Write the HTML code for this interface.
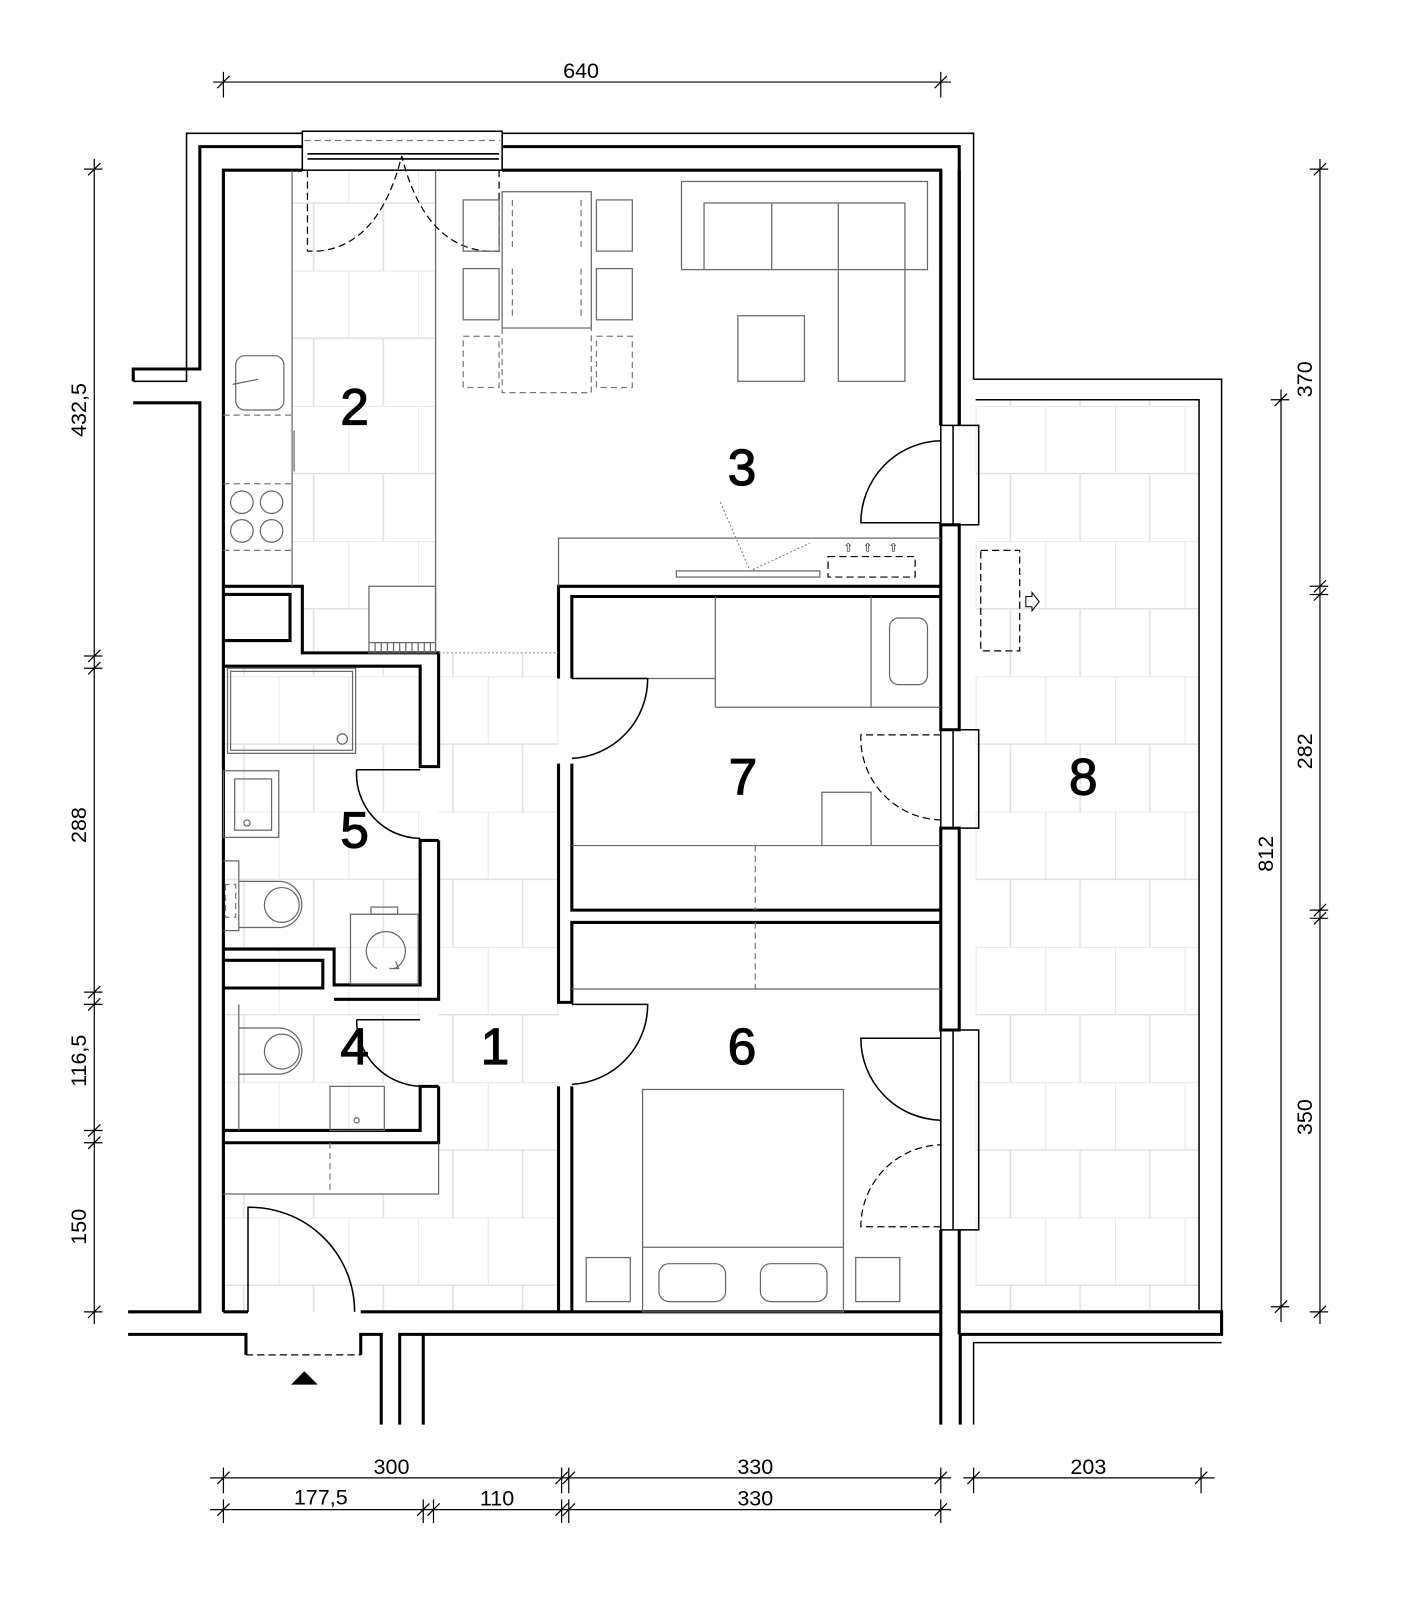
<!DOCTYPE html>
<html><head><meta charset="utf-8"><style>
html,body{margin:0;padding:0;background:#fff}
svg{display:block}
text{font-family:"Liberation Sans",sans-serif}
.w{stroke:#000;stroke-width:3;fill:none}
.w2{stroke:#000;stroke-width:1.5;fill:none}
.f{stroke:#666;stroke-width:1.2;fill:none}
.d{stroke:#777;stroke-width:1.2;fill:none;stroke-dasharray:6 4}
.dk{stroke:#000;stroke-width:1.2;fill:none;stroke-dasharray:7 4}
.dim{stroke:#000;stroke-width:1.2;fill:none}
.dt{font-size:21px;fill:#000}
.rl{font-size:50px;fill:#000;stroke:#000;stroke-width:1.2}
</style></head><body>
<svg width="1404" height="1604" viewBox="0 0 1370 1565" xmlns="http://www.w3.org/2000/svg">
<defs>
<pattern id="t" x="0" y="0" width="68" height="132" patternUnits="userSpaceOnUse">
<path d="M0 0H68M0 66H68M0 0V66M34 66V132" stroke="#e0e0e0" stroke-width="1.5" fill="none"/>
</pattern>
</defs>
<rect x="285" y="166" width="140" height="406" fill="url(#t)"/>
<rect x="295" y="572" width="65" height="65" fill="url(#t)"/>
<rect x="428" y="637" width="117" height="643" fill="url(#t)"/>
<rect x="218" y="650" width="192" height="453" fill="url(#t)" opacity="0.9"/>
<rect x="218" y="1165" width="210" height="115" fill="url(#t)"/>
<rect x="952" y="390" width="218" height="888" fill="url(#t)"/>

<path class="w2" d="M130 372H182V130H295M490 130H950V370"/>
<path class="w" d="M130 372V360H195V143H295M490 143H936V415"/>
<path class="w" d="M218 1280V166H295M490 166H918V415"/>
<path class="w" d="M130 393H195V1280H125"/>
<path class="w" d="M125 1302H240V1322M352 1322V1302H372V1390M390 1390V1302H413M413 1390V1302H918V1390M937 1390V1302H1192V1280H937"/>
<path class="w" d="M218 1280H242M352 1280H918"/>
<path class="dk" d="M240 1322H352"/>
<path d="M297 1338L310 1351H284Z" fill="#000"/>
<path class="w2" d="M950 1390V1310H1192M950 370H1192V1280M952 390H1170V1278"/>
<path class="w" d="M918 415V166M918 512H936V712H918ZM918 808H936V1005H918ZM918 1200V1280M936 1200V1302M918 1280V1302"/>
<path class="w" d="M936 166V415"/>
<g class="w2">
<rect x="918" y="415" width="37" height="97"/><line x1="930" y1="415" x2="930" y2="512"/>
<rect x="918" y="712" width="37" height="96"/><line x1="930" y1="712" x2="930" y2="808"/>
<rect x="918" y="1005" width="37" height="195"/><line x1="930" y1="1005" x2="930" y2="1200"/>
</g>
<g class="w2"><rect x="295" y="128" width="195" height="38"/><line x1="300" y1="150" x2="487" y2="150"/><line x1="300" y1="155" x2="487" y2="155"/></g>
<path class="d" d="M297 137H488"/>
<path class="w" d="M218 572H295V637H428V748H410V650H218M218 580H283V625H218"/>
<path class="w" d="M428 820H410V961H326V926H218M428 820V975H326M218 937H315V964H218"/>
<path class="w" d="M428 1060H410V1103H218M428 1060V1115H218"/>
<path class="w" d="M545 662V572H918M558 662V582H918"/>
<path class="w" d="M545 745V978H558V900H918M558 745V888H918"/>
<path class="w" d="M545 1060V1280M558 1060V1280"/>
<g class="f">
<line x1="285" y1="166" x2="285" y2="572"/><line x1="425" y1="166" x2="425" y2="637"/>
<rect x="230" y="347" width="47" height="53" rx="9"/><line x1="227" y1="375" x2="252" y2="370"/>
<line x1="287" y1="420" x2="287" y2="460"/>
<circle cx="236" cy="490" r="11"/><circle cx="265" cy="490" r="11"/><circle cx="236" cy="518" r="11"/><circle cx="265" cy="518" r="11"/>
<rect x="360" y="572" width="65" height="65"/>
<path d="M360 627H425M366 627V637M372 627V637M378 627V637M384 627V637M390 627V637M396 627V637M402 627V637M408 627V637M414 627V637M420 627V637"/>
</g>
<path class="d" d="M218 405H285M218 472H285M218 537H285"/>
<path d="M428 637H545" stroke="#888" stroke-width="1" stroke-dasharray="2 2"/>
<path class="dk" d="M300 166V245H310Q370 240 392 152Q414 240 475 245H487V166"/>
<g class="f"><rect x="490" y="187" width="87" height="133"/><rect x="452" y="195" width="35" height="50"/><rect x="452" y="262" width="35" height="50"/><rect x="582" y="195" width="35" height="50"/><rect x="582" y="262" width="35" height="50"/></g>
<path class="d" d="M490 320V383H577V320M452 328H487V378H452ZM582 328H617V378H582ZM500 195V245M500 262V312M567 195V245M567 262V312"/>
<g class="f"><rect x="665" y="177" width="240" height="86"/><path d="M687 263V198H883V372H818V198M753 198V263"/><rect x="720" y="308" width="65" height="64"/></g>
<g class="f"><path d="M545 572V525H918"/><rect x="660" y="557" width="140" height="6"/></g>
<path class="dk" d="M808 543H893V563H808Z" stroke="#333"/>
<path d="M703 490L732 557L790 530" stroke="#777" stroke-width="1" stroke-dasharray="2 2" fill="none"/>
<g font-size="11" fill="#000"><text x="823" y="538">⇧</text><text x="842" y="538">⇧</text><text x="867" y="538">⇧</text></g>
<path class="w2" d="M918 510H840A80 80 0 0 1 918 430"/>
<g class="f"><path d="M558 662H698V582M698 690H918M698 582V690M850 582V690"/><rect x="868" y="603" width="37" height="65" rx="9"/>
<path d="M558 825H918M802 825V773H850V825"/></g>
<path class="d" d="M737 825V888M737 900V965"/>
<path class="f" d="M558 965H918"/>
<path class="w2" d="M558 662H632A78 78 0 0 1 558 740"/>
<path class="dk" d="M918 717H840A80 80 0 0 0 918 800"/>
<path class="w2" d="M558 980H632A78 78 0 0 1 558 1058"/>
<path class="w2" d="M918 1013H840A80 80 0 0 0 918 1093"/>
<path class="dk" d="M918 1197H840A80 80 0 0 1 918 1117"/>
<g class="f"><rect x="627" y="1063" width="196" height="217"/><line x1="627" y1="1217" x2="823" y2="1217"/>
<rect x="643" y="1233" width="65" height="37" rx="10"/><rect x="742" y="1233" width="65" height="37" rx="10"/>
<rect x="572" y="1227" width="43" height="43"/><rect x="835" y="1227" width="43" height="43"/></g>
<g class="f"><rect x="222" y="652" width="125" height="83"/><rect x="225" y="655" width="119" height="77"/><circle cx="334" cy="721" r="5"/>
<rect x="218" y="752" width="54" height="65"/><rect x="229" y="760" width="36" height="50"/><circle cx="241" cy="803" r="3"/>
<path d="M218 840H233V908H218M233 860H272A22 22 0 0 1 272 905H233"/><circle cx="275" cy="883" r="17"/>
<rect x="342" y="892" width="66" height="68"/><rect x="362" y="885" width="26" height="7"/>
<path d="M368 945A19 19 0 1 1 385 945M380 945H389L386 938"/>
<path d="M233 980V1103M233 1003H272A22 22 0 0 1 272 1048H233"/><circle cx="275" cy="1026" r="17"/>
<rect x="322" y="1060" width="53" height="43"/><circle cx="348" cy="1093" r="2.5"/>
<path d="M218 1165H428V1115"/></g>
<path class="d" d="M220 863V895H230V863Z"/>
<path class="w2" d="M348 751A63 63 0 0 0 410 818M410 751H348"/>
<path class="w2" d="M348 995H410M348 995A65 65 0 0 0 410 1060"/>
<path class="d" d="M322 1115V1165"/>
<path class="w2" d="M242 1280V1178A102 102 0 0 1 346 1280"/>
<path class="dk" d="M957 537H995V635H957Z" stroke="#555"/>
<path d="M1001 582H1007V578L1014 587L1007 596V592H1001Z" stroke="#000" stroke-width="1" fill="none"/>
<text class="rl" x="346" y="414" text-anchor="middle">2</text>
<text class="rl" x="724" y="473" text-anchor="middle">3</text>
<text class="rl" x="346" y="827" text-anchor="middle">5</text>
<text class="rl" x="346" y="1038" text-anchor="middle">4</text>
<text class="rl" x="483" y="1038" text-anchor="middle">1</text>
<text class="rl" x="725" y="775" text-anchor="middle">7</text>
<text class="rl" x="724" y="1038" text-anchor="middle">6</text>
<text class="rl" x="1057" y="775" text-anchor="middle">8</text>
<g class="dim">
<path d="M208 80H928M218 70V95M918 70V95M212 86L224 74M912 86L924 74"/>
<path d="M92 155V1292M82 165H100M82 640H100M82 652H100M82 968H100M82 980H100M82 1103H100M82 1115H100M82 1280H100"/>
<path d="M86 171L98 159M86 646L98 634M86 658L98 646M86 974L98 962M86 986L98 974M86 1109L98 1097M86 1121L98 1109M86 1286L98 1274"/>
<path d="M1288 155V1292M1278 165H1296M1278 572H1296M1278 580H1296M1278 888H1296M1278 896H1296M1278 1280H1296"/>
<path d="M1282 171L1294 159M1282 578L1294 566M1282 586L1294 574M1282 894L1294 882M1282 902L1294 890M1282 1286L1294 1274"/>
<path d="M1250 380V1290M1240 390H1258M1240 1275H1258M1244 396L1256 384M1244 1281L1256 1269"/>
<path d="M205 1442H560M548 1442H928M218 1432V1457M548 1432V1457M555 1432V1457M918 1432V1457M212 1448L224 1436M542 1448L554 1436M549 1448L561 1436M912 1448L924 1436"/>
<path d="M940 1442H1185M950 1432V1457M1172 1432V1457M944 1448L956 1436M1166 1448L1178 1436"/>
<path d="M205 1473H928M218 1463V1486M413 1463V1486M423 1463V1486M548 1463V1486M555 1463V1486M918 1463V1486M212 1479L224 1467M407 1479L419 1467M417 1479L429 1467M542 1479L554 1467M549 1479L561 1467M912 1479L924 1467"/>
</g>
<g class="dt" text-anchor="middle">
<text x="567" y="76">640</text>
<text x="382" y="1438">300</text><text x="737" y="1438">330</text><text x="1062" y="1438">203</text>
<text x="313" y="1468">177,5</text><text x="485" y="1469">110</text><text x="737" y="1469">330</text>
<text transform="translate(84,400) rotate(-90)">432,5</text>
<text transform="translate(84,805) rotate(-90)">288</text>
<text transform="translate(84,1035) rotate(-90)">116,5</text>
<text transform="translate(84,1197) rotate(-90)">150</text>
<text transform="translate(1280,370) rotate(-90)">370</text>
<text transform="translate(1280,733) rotate(-90)">282</text>
<text transform="translate(1280,1090) rotate(-90)">350</text>
<text transform="translate(1242,833) rotate(-90)">812</text>
</g>
</svg>
</body></html>
